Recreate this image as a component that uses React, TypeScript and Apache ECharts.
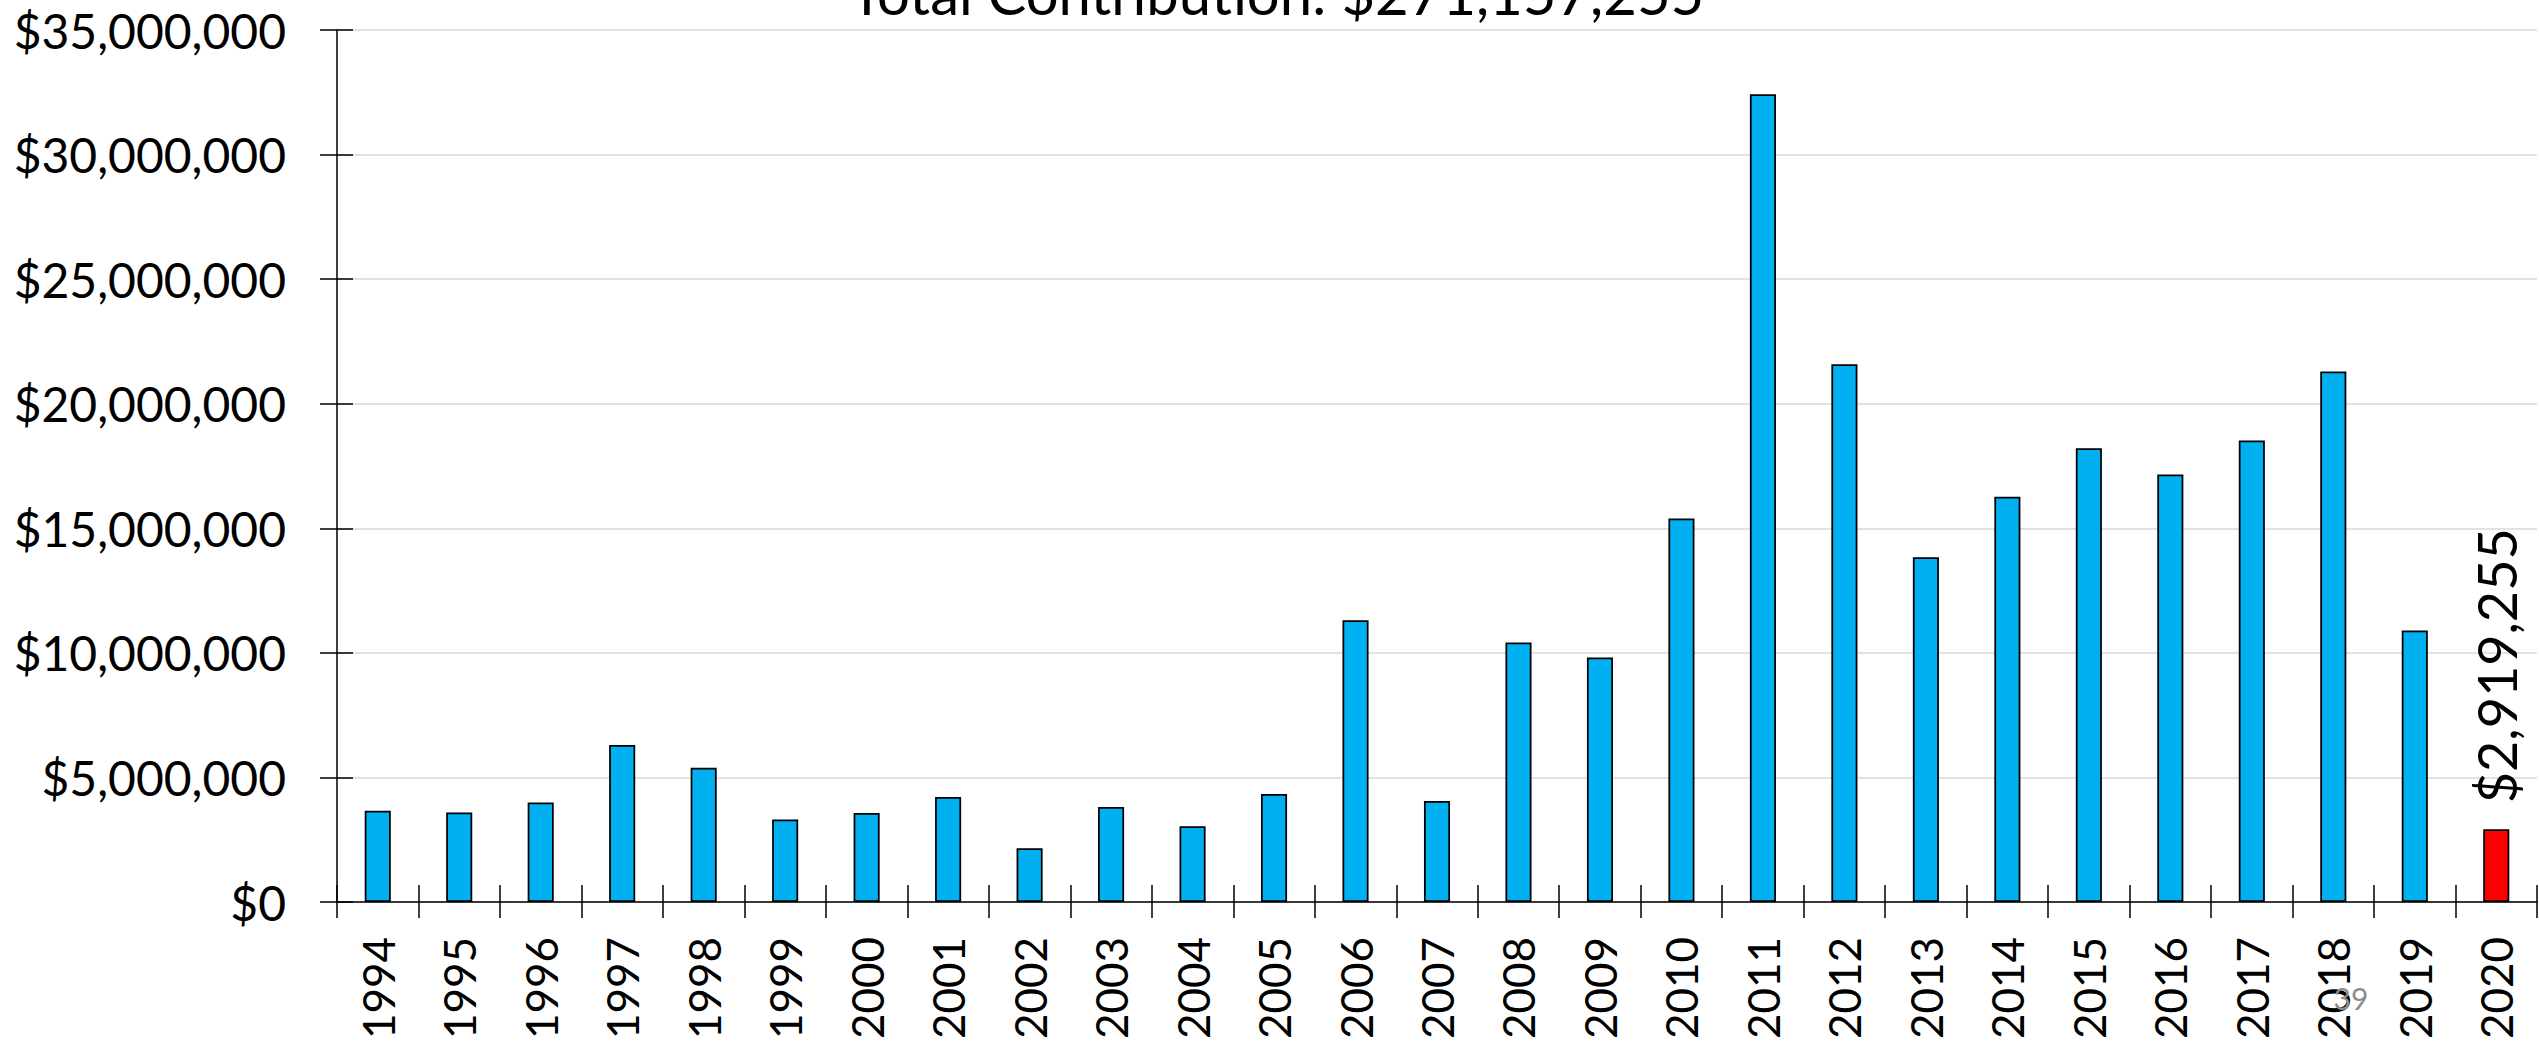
import React, { useEffect, useRef } from "react";
import * as echarts from "echarts";

const years = [
  "1994", "1995", "1996", "1997", "1998", "1999", "2000", "2001", "2002",
  "2003", "2004", "2005", "2006", "2007", "2008", "2009", "2010", "2011",
  "2012", "2013", "2014", "2015", "2016", "2017", "2018", "2019", "2020",
];
const contributions = [
  3660000, 3590000, 3990000, 6300000, 5390000, 3310000, 3570000, 4210000,
  2160000, 3810000, 3040000, 4330000, 11310000, 4050000, 10420000, 9810000,
  15390000, 32420000, 21580000, 13840000, 16270000, 18210000, 17160000,
  18520000, 21290000, 10900000, 2919255,
];
const highlightYear = "2020";
const yMin = 0;
const yMax = 35000000;
const yInterval = 5000000;
const titleText = "Total Contribution: $271,157,255";
const pageNumber = "39";

const FONT = "Lato";
const fmtMoney = (v: number) => "$" + Math.round(v).toLocaleString("en-US");

export default function App() {
  const ref = useRef<HTMLDivElement>(null);
  useEffect(() => {
    if (!ref.current) return;
    const chart = echarts.init(ref.current, null, { renderer: "svg" });
    const data = contributions.map((v, i) => {
      const hi = years[i] === highlightYear;
      return {
        value: v,
        itemStyle: { color: hi ? "#FF0000" : "#00B0F0" },
        label: hi
          ? {
              show: true,
              position: "top",
              rotate: 90,
              align: "left",
              verticalAlign: "middle",
              distance: 26,
              fontFamily: FONT,
              fontSize: 54,
              color: "#000",
              formatter: (p: any) => fmtMoney(p.value),
            }
          : { show: false },
      };
    });
    chart.setOption({
      animation: false,
      backgroundColor: "#ffffff",
      textStyle: { fontFamily: FONT },
      grid: { left: 337, right: 2, top: 30, bottom: 147, containLabel: false },
      graphic: [
        {
          type: "text",
          x: 1277,
          y: -8,
          z: 10,
          style: {
            text: titleText,
            fontFamily: FONT,
            fontSize: 58,
            fill: "#000",
            textAlign: "center",
            textVerticalAlign: "middle",
          },
        },
        {
          type: "text",
          x: 2351,
          y: 998,
          z: 100,
          style: {
            text: pageNumber,
            fontFamily: FONT,
            fontSize: 30,
            fill: "#8c8c8c",
            textAlign: "center",
            textVerticalAlign: "middle",
          },
        },
      ],
      xAxis: [
        {
          type: "category",
          data: years,
          position: "bottom",
          axisLine: { show: true, lineStyle: { color: "#000", width: 1.5 } },
          axisTick: { show: true, inside: true, length: 17, lineStyle: { color: "#000", width: 1.5 } },
          axisLabel: {
            show: true,
            rotate: 90,
            margin: 35,
            fontFamily: FONT,
            fontSize: 44,
            color: "#000",
            interval: 0,
          },
          splitLine: { show: false },
        },
        {
          type: "category",
          data: years,
          position: "bottom",
          axisLine: { show: false },
          axisTick: { show: true, inside: false, length: 16, lineStyle: { color: "#000", width: 1.5 } },
          axisLabel: { show: false },
          splitLine: { show: false },
        },
      ],
      yAxis: [
        {
          type: "value",
          min: yMin,
          max: yMax,
          interval: yInterval,
          position: "left",
          axisLine: { show: true, lineStyle: { color: "#000", width: 1.5 } },
          axisTick: { show: true, inside: false, length: 17, lineStyle: { color: "#000", width: 1.5 } },
          axisLabel: {
            show: true,
            margin: 51,
            fontFamily: FONT,
            fontSize: 48,
            color: "#000",
            formatter: (v: number) => fmtMoney(v),
          },
          splitLine: { show: true, lineStyle: { color: "#d9d9d9", width: 1.5 } },
        },
        {
          type: "value",
          min: yMin,
          max: yMax,
          interval: yInterval,
          position: "left",
          axisLine: { show: false },
          axisTick: { show: true, inside: true, length: 16, lineStyle: { color: "#000", width: 1.5 } },
          axisLabel: { show: false },
          splitLine: { show: false },
        },
      ],
      series: [
        {
          type: "bar",
          xAxisIndex: 0,
          yAxisIndex: 0,
          data,
          barWidth: "32%",
          itemStyle: { borderColor: "#000", borderWidth: 1.75 },
        },
      ],
    });
    return () => chart.dispose();
  }, []);
  return (
    <div
      ref={ref}
      style={{ position: "fixed", left: 0, top: 0, width: 2539, height: 1049 }}
    />
  );
}
